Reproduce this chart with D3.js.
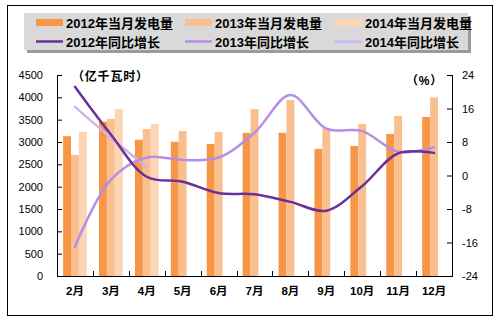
<!DOCTYPE html>
<html><head><meta charset="utf-8">
<script src="https://cdn.jsdelivr.net/npm/d3@7"></script>
<style>
body{margin:0;background:#fff;}
text{font-family:"Liberation Sans","Noto Sans CJK SC",Arial,sans-serif;}
</style></head>
<body><svg id="c" width="500" height="324"></svg>
<script>
const months = ["2月","3月","4月","5月","6月","7月","8月","9月","10月","11月","12月"];
const gen2012 = [3130,3455,3050,3005,2955,3205,3205,2845,2910,3180,3560];
const gen2013 = [2710,3515,3290,3245,3222,3738,3940,3305,3403,3582,4000];
const gen2014 = [3230,3738,3403,null,null,null,null,null,null,null,null];
const yoy2012 = [21.2,9.8,-0.3,-1.5,-4.2,-4.5,-6.3,-8.4,-2.5,5.3,5.4];
const yoy2013 = [-17,-1,4.3,3.7,4.3,10.2,19.2,11.2,10.6,5.7,6.7];
const yoy2014 = [16.4,9,2,null,null,null,null,null,null,null,null];
const leftTicks = [0,500,1000,1500,2000,2500,3000,3500,4000,4500];
const rightTicks = [-24,-16,-8,0,8,16,24];
const barNames = ["2012年当月发电量","2013年当月发电量","2014年当月发电量"];
const lineNames = ["2012年同比增长","2013年同比增长","2014年同比增长"];
const barColors = ["#f79646","#fabf8f","#fcd5b4"];
const lineColors = ["#6a2f98","#b58ee6","#cdb5f0"];

const svg = d3.select("#c");
const L=57,R=452,T=75,B=276;
svg.append("rect").attr("x",7.5).attr("y",5.5).attr("width",485).attr("height",310).attr("fill","#fff").attr("stroke","#000").attr("stroke-width",1);

const x = d3.scaleBand().domain(months).range([L,R]).padding(0);
const xs = d3.scaleBand().domain([0,1,2]).range([0,x.bandwidth()]).paddingInner(0).paddingOuter(0.77);
const yl = d3.scaleLinear().domain([0,4500]).range([B,T]);
const yr = d3.scaleLinear().domain([-24,24]).range([B,T]);

// bars
const barSeries=[gen2012,gen2013,gen2014];
barSeries.forEach((s,si)=>{
  svg.append("g").selectAll("rect").data(months.map((m,i)=>({m,v:s[i]})).filter(d=>d.v!=null))
   .join("rect").attr("x",d=>x(d.m)+xs(si)).attr("width",xs.bandwidth())
   .attr("y",d=>yl(d.v)).attr("height",d=>B-yl(d.v)).attr("fill",barColors[si]);
});

// lines
const lineSeries=[yoy2012,yoy2013,yoy2014];
const lg = d3.line().defined(d=>d.v!=null).x(d=>x(d.m)+x.bandwidth()/2).y(d=>yr(d.v)).curve(d3.curveCatmullRom.alpha(0.5));
[2,1,0].forEach(si=>{
  svg.append("path").datum(months.map((m,i)=>({m,v:lineSeries[si][i]})).filter(d=>d.v!=null))
   .attr("d",lg).attr("fill","none").attr("stroke",lineColors[si]).attr("stroke-width",2.5).attr("stroke-linecap","round");
});

// axes
const ax = svg.append("g").attr("transform",`translate(${L},0)`)
  .call(d3.axisRight(yl).tickValues(leftTicks).tickSize(5).tickFormat(""));
ax.select(".domain").remove();
ax.selectAll("line").attr("stroke","#000");
svg.append("line").attr("x1",L+0.5).attr("x2",L+0.5).attr("y1",T).attr("y2",B).attr("stroke","#000");
svg.append("g").selectAll("text").data(leftTicks).join("text")
  .attr("x",43).attr("y",d=>yl(d)+4).attr("text-anchor","end").attr("font-size",11).text(d=>d);

const arx = svg.append("g").attr("transform",`translate(${R},0)`)
  .call(d3.axisLeft(yr).tickValues(rightTicks).tickSize(5).tickFormat(""));
arx.select(".domain").remove();
arx.selectAll("line").attr("stroke","#000");
svg.append("line").attr("x1",R+0.5).attr("x2",R+0.5).attr("y1",T).attr("y2",B).attr("stroke","#000");
svg.append("g").selectAll("text").data(rightTicks).join("text")
  .attr("x",462).attr("y",d=>yr(d)+4).attr("text-anchor","start").attr("font-size",11).text(d=>d);

// x axis
svg.append("line").attr("x1",L).attr("x2",R+1).attr("y1",B+0.5).attr("y2",B+0.5).attr("stroke","#000");
const bounds = months.map(m=>x(m)).concat([R]);
svg.append("g").selectAll("line").data(bounds).join("line")
  .attr("x1",d=>Math.round(d)+0.5).attr("x2",d=>Math.round(d)+0.5).attr("y1",B).attr("y2",B-5).attr("stroke","#000");
svg.append("g").selectAll("text").data(months).join("text")
  .attr("x",d=>x(d)+x.bandwidth()/2).attr("y",295).attr("text-anchor","middle")
  .attr("font-size",11.5).attr("font-weight","bold").text(d=>d);

// unit labels
svg.append("text").attr("x",72).attr("y",80.5).attr("font-size",12).attr("font-weight","bold").attr("letter-spacing",0.8).text("（亿千瓦时）");
svg.append("text").attr("x",406).attr("y",85).attr("font-size",12).attr("font-weight","bold").attr("letter-spacing",0.8).text("（%）");

// legend
svg.append("rect").attr("x",27).attr("y",16).attr("width",444).attr("height",37).attr("fill","#9a9a9a");
svg.append("rect").attr("x",24).attr("y",13).attr("width",444).attr("height",37).attr("fill","#d9d9d9");
const colX=[36,185,335];
barNames.forEach((n,i)=>{
  svg.append("rect").attr("x",colX[i]).attr("y",19).attr("width",27).attr("height",7).attr("fill",barColors[i]);
  svg.append("text").attr("x",colX[i]+30).attr("y",27.5).attr("font-size",13).attr("font-weight","bold").text(n);
});
lineNames.forEach((n,i)=>{
  svg.append("line").attr("x1",colX[i]).attr("x2",colX[i]+27).attr("y1",41.5).attr("y2",41.5).attr("stroke",lineColors[i]).attr("stroke-width",2.5);
  svg.append("text").attr("x",colX[i]+30).attr("y",46.5).attr("font-size",13).attr("font-weight","bold").text(n);
});
</script></body></html>
